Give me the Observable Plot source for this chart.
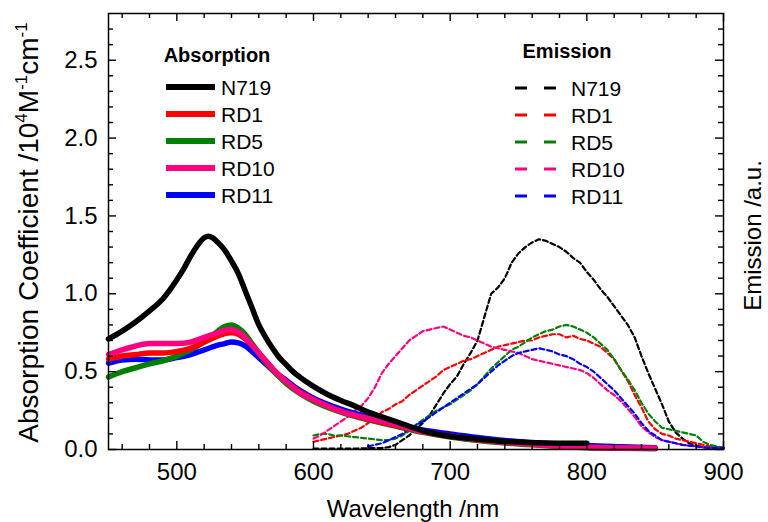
<!DOCTYPE html>
<html><head><meta charset="utf-8">
<script src="https://cdn.jsdelivr.net/npm/d3@7"></script>
<script src="https://cdn.jsdelivr.net/npm/@observablehq/plot@0.6"></script>
<style>body{margin:0;background:#fff;}</style>
</head><body><div id="chart"></div>
<script>
const dyes = ["N719", "RD1", "RD5", "RD10", "RD11"];
const colors = ["#000000", "#ff0000", "#008000", "#ff0080", "#0000ff"];

// Absorption (10^4 M^-1 cm^-1)
const absWlN719 = [450,460,470,480,490,500,505,510,515,520,523,526,530,535,540,545,550,555,560,565,570,575,580,585,590,600,610,620,630,640,650,665,680,695,715,735,755,780,800];
const absN719 = [0.71,0.76,0.82,0.89,0.97,1.09,1.16,1.24,1.31,1.36,1.37,1.36,1.33,1.28,1.21,1.13,1.02,0.91,0.80,0.72,0.65,0.59,0.545,0.50,0.465,0.405,0.355,0.315,0.28,0.24,0.21,0.165,0.12,0.092,0.07,0.055,0.045,0.04,0.04];
const absWl = [450,460,470,480,490,500,510,520,530,535,540,545,550,555,560,565,570,575,580,585,590,600,620,640,660,680,700,720,740,760,780,800,825,850];
const absRD1 = [0.58,0.60,0.61,0.62,0.62,0.63,0.65,0.69,0.73,0.745,0.75,0.74,0.71,0.67,0.62,0.57,0.52,0.475,0.435,0.40,0.37,0.32,0.245,0.195,0.155,0.115,0.085,0.062,0.047,0.033,0.022,0.015,0.01,0.008];
const absRD5 = [0.465,0.50,0.525,0.55,0.57,0.60,0.64,0.69,0.76,0.79,0.80,0.78,0.74,0.68,0.62,0.56,0.51,0.465,0.425,0.39,0.36,0.31,0.24,0.19,0.15,0.11,0.08,0.058,0.042,0.03,0.02,0.012,0.008,0.005];
const absRD10 = [0.61,0.64,0.665,0.68,0.68,0.68,0.69,0.72,0.75,0.765,0.77,0.755,0.72,0.67,0.62,0.57,0.52,0.475,0.435,0.40,0.365,0.32,0.245,0.20,0.16,0.115,0.085,0.062,0.048,0.033,0.022,0.015,0.01,0.008];
const absRD11 = [0.555,0.575,0.58,0.575,0.575,0.59,0.61,0.64,0.67,0.68,0.69,0.685,0.665,0.63,0.59,0.55,0.51,0.475,0.445,0.41,0.38,0.33,0.26,0.21,0.17,0.125,0.10,0.077,0.058,0.045,0.034,0.025,0.018,0.012];

// Emission (a.u.)
const emWl = [600,605,610,615,620,625,630,635,640,645,650,655,660,665,670,675,680,685,690,695,700,705,710,715,720,725,730,735,740,745,750,755,760,765,770,775,780,785,790,795,800,805,810,815,820,825,830,835,840,845,850,855,860,865,870,875,880,885,890,895,900];
const emN719 = [0.005,0.005,0.005,0.005,0.005,0.006,0.006,0.007,0.008,0.009,0.01,0.015,0.03,0.06,0.09,0.13,0.17,0.22,0.29,0.36,0.42,0.47,0.55,0.62,0.70,0.85,1.00,1.04,1.10,1.20,1.26,1.30,1.33,1.35,1.34,1.32,1.30,1.27,1.23,1.20,1.14,1.09,1.03,0.98,0.92,0.86,0.80,0.72,0.60,0.49,0.39,0.29,0.18,0.11,0.07,0.04,0.025,0.015,0.01,0.008,0.005];
const emRD1 = [0.05,0.06,0.07,0.08,0.09,0.10,0.12,0.14,0.17,0.20,0.24,0.26,0.29,0.31,0.35,0.38,0.41,0.44,0.47,0.51,0.53,0.55,0.57,0.58,0.60,0.62,0.64,0.66,0.67,0.68,0.69,0.70,0.70,0.72,0.73,0.74,0.74,0.72,0.73,0.71,0.70,0.68,0.66,0.62,0.58,0.51,0.44,0.35,0.27,0.18,0.13,0.10,0.09,0.07,0.06,0.05,0.04,0.03,0.02,0.015,0.01];
const emRD5 = [0.09,0.10,0.10,0.09,0.09,0.085,0.08,0.075,0.07,0.065,0.06,0.06,0.07,0.09,0.12,0.16,0.19,0.22,0.25,0.27,0.29,0.32,0.35,0.38,0.42,0.47,0.52,0.56,0.60,0.64,0.66,0.69,0.72,0.74,0.76,0.77,0.79,0.80,0.79,0.77,0.75,0.72,0.68,0.64,0.58,0.51,0.45,0.38,0.30,0.23,0.18,0.14,0.13,0.12,0.11,0.10,0.09,0.05,0.03,0.02,0.01];
const emRD10 = [0.07,0.09,0.12,0.15,0.18,0.21,0.25,0.28,0.33,0.40,0.49,0.55,0.60,0.65,0.70,0.73,0.76,0.77,0.78,0.79,0.77,0.75,0.73,0.72,0.70,0.68,0.66,0.65,0.64,0.63,0.62,0.60,0.58,0.57,0.56,0.55,0.54,0.53,0.52,0.51,0.49,0.46,0.42,0.38,0.35,0.31,0.26,0.21,0.15,0.11,0.08,0.06,0.05,0.04,0.03,0.025,0.02,0.015,0.01,0.008,0.005];
const emRD11 = [null,null,null,null,null,null,null,null,0.02,0.03,0.04,0.06,0.08,0.10,0.13,0.155,0.18,0.21,0.24,0.27,0.30,0.33,0.36,0.39,0.42,0.46,0.50,0.54,0.57,0.60,0.62,0.63,0.64,0.65,0.64,0.63,0.61,0.60,0.58,0.55,0.53,0.50,0.46,0.42,0.38,0.33,0.28,0.23,0.17,0.12,0.09,0.06,0.05,0.04,0.03,0.025,0.02,0.015,0.01,0.01,0.01];

const xMajor = [500, 600, 700, 800, 900];
const xMinor = [460,480,520,540,560,580,620,640,660,680,720,740,760,780,820,840,860,880];
const yMajor = [0, 0.5, 1.0, 1.5, 2.0, 2.5];
const yMinor = [0.1,0.2,0.3,0.4,0.6,0.7,0.8,0.9,1.1,1.2,1.3,1.4,1.6,1.7,1.8,1.9,2.1,2.2,2.3,2.4,2.6,2.7];
const xLabel = "Wavelength /nm";
const yLabelParts = [["Absorption Coefficient /10", false], ["4", true], ["M", false], ["-1", true], ["cm", false], ["-1", true]];
const yLabel = yLabelParts.map(p => p[0]).join("");
const y2Label = "Emission /a.u.";

const absSeries = [[absWlN719, absN719], [absWl, absRD1], [absWl, absRD5], [absWl, absRD10], [absWl, absRD11]];
const emSeries = [emN719, emRD1, emRD5, emRD10, emRD11];

const absRows = [];
absSeries.forEach(([wl, v], i) => wl.forEach((w, j) => absRows.push({dye: dyes[i], wl: w, v: v[j]})));
const emRows = [];
emSeries.forEach((v, i) => emWl.forEach((w, j) => { if (v[j] != null) emRows.push({dye: dyes[i], wl: w, v: v[j]}); }));
const absOrder = ["RD11", "RD5", "RD1", "RD10", "N719"];
absRows.sort((a, b) => absOrder.indexOf(a.dye) - absOrder.indexOf(b.dye));

const FONT = "'Liberation Sans', Arial, Helvetica, sans-serif";
const W = 768, H = 522, ML = 108, MR = 45, MT = 13, MB = 73;
const FW = W - ML - MR, FH = H - MT - MB; // frame size
const MAJ = 8, MIN = 5, TW = 1.4;

const chart = Plot.plot({
  width: W, height: H,
  marginLeft: ML, marginRight: MR, marginTop: MT, marginBottom: MB,
  style: {fontFamily: FONT, background: "#fff", color: "#000", overflow: "visible"},
  x: {domain: [450, 900]},
  y: {domain: [0, 2.8]},
  color: {domain: dyes, range: colors},
  marks: [
    Plot.line(emRows, {x: "wl", y: "v", z: "dye", stroke: "dye", strokeWidth: 2.2, strokeDasharray: "5,3", curve: "linear"}),
    Plot.line(absRows, {x: "wl", y: "v", z: "dye", stroke: "dye", strokeWidth: 5.5, curve: "monotone-x"}),
    // inward ticks on all four sides
    Plot.tickX(xMajor, {x: d => d, insetTop: FH - MAJ, strokeWidth: TW}),
    Plot.tickX(xMinor, {x: d => d, insetTop: FH - MIN, strokeWidth: TW}),
    Plot.tickX(xMajor, {x: d => d, insetBottom: FH - MAJ, strokeWidth: TW}),
    Plot.tickX(xMinor, {x: d => d, insetBottom: FH - MIN, strokeWidth: TW}),
    Plot.tickY(yMajor, {y: d => d, insetRight: FW - MAJ, strokeWidth: TW}),
    Plot.tickY(yMinor, {y: d => d, insetRight: FW - MIN, strokeWidth: TW}),
    Plot.tickY(yMajor, {y: d => d, insetLeft: FW - MAJ, strokeWidth: TW}),
    Plot.tickY(yMinor, {y: d => d, insetLeft: FW - MIN, strokeWidth: TW}),
    Plot.frame({strokeWidth: 1.5}),
    // tick labels
    Plot.axisX({anchor: "bottom", ticks: xMajor, tickSize: 0, tickPadding: 13, fontSize: 24, label: null, tickFormat: d => String(d)}),
    Plot.axisY({anchor: "left", ticks: yMajor, tickSize: 0, tickPadding: 11, fontSize: 24, label: null, tickFormat: d => d.toFixed(1)}),
    // axis titles
    Plot.text([xLabel], {text: d => d, frameAnchor: "bottom", textAnchor: "middle", lineAnchor: "middle", dy: 60, dx: -3, fontSize: 24}),
    Plot.text([yLabel], {text: d => d, frameAnchor: "left", textAnchor: "middle", lineAnchor: "middle", rotate: -90, dx: -79, dy: 1, fontSize: 28}),
    Plot.text([y2Label], {text: d => d, frameAnchor: "right", textAnchor: "middle", lineAnchor: "middle", rotate: -90, dx: 30, dy: 4, fontSize: 24})
  ]
});
document.getElementById("chart").appendChild(chart);

// superscripts in the y label
const svg = d3.select(chart);
svg.selectAll("text").filter(function () { return this.textContent === yLabel; }).each(function () {
  const t = d3.select(this);
  t.text(null);
  let prevSup = false;
  yLabelParts.forEach(([s, sup]) => {
    const ts = t.append("tspan").text(s);
    if (sup) ts.attr("font-size", 17).attr("dy", prevSup ? 0 : -11);
    else if (prevSup) ts.attr("dy", 11);
    prevSup = sup;
  });
});

// legends
const lg = svg.append("g").attr("font-family", FONT).attr("fill", "#000").attr("text-anchor", "start");
lg.append("text").attr("x", 217).attr("y", 55).attr("dy", "0.36em").attr("text-anchor", "middle")
  .attr("font-weight", "bold").attr("font-size", 20).text("Absorption");
lg.append("text").attr("x", 567).attr("y", 51).attr("dy", "0.36em").attr("text-anchor", "middle")
  .attr("font-weight", "bold").attr("font-size", 20).text("Emission");
dyes.forEach((d, i) => {
  const ya = 87 + i * 27;
  lg.append("line").attr("x1", 166).attr("x2", 215).attr("y1", ya).attr("y2", ya)
    .attr("stroke", colors[i]).attr("stroke-width", 6);
  lg.append("text").attr("x", 221).attr("y", ya).attr("dy", "0.36em").attr("font-size", 21).text(d);
  const ye = 88 + i * 27;
  lg.append("line").attr("x1", 515).attr("x2", 557).attr("y1", ye).attr("y2", ye)
    .attr("stroke", colors[i]).attr("stroke-width", 3).attr("stroke-dasharray", "12,17");
  lg.append("text").attr("x", 571).attr("y", ye).attr("dy", "0.36em").attr("font-size", 21).text(d);
});
</script>
</body></html>
